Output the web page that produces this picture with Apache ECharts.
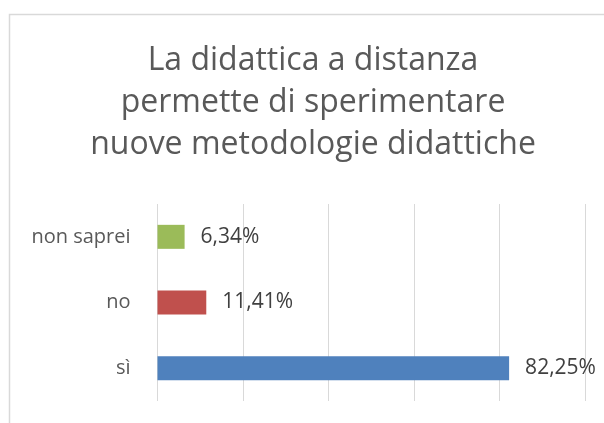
<!DOCTYPE html>
<html>
<head>
<meta charset="utf-8">
<script src="https://cdn.jsdelivr.net/npm/echarts@6/dist/echarts.min.js"></script>
<style>
  html, body { margin: 0; padding: 0; background: #fff; }
  #chart { width: 604px; height: 423px; }
</style>
</head>
<body>
<div id="chart"></div>
<script>
// dati
const categories = ['sì', 'no', 'non saprei']
const values = [82.25, 11.41, 6.34]
const barColors = ['#4f81bd', '#c0504d', '#9bbb59']
const titleLines = ['La didattica a distanza', 'permette di sperimentare', 'nuove metodologie didattiche']

const myChart = echarts.init(document.getElementById('chart'))

const option = {
  animation: false,
  title: {
    text: titleLines.join('\n'),
    left: 308,
    textAlign: 'center',
    top: 35,
    textStyle: {
      fontFamily: 'Open Sans',
      fontSize: 32,
      fontWeight: 'normal',
      color: '#595959',
      lineHeight: 42,
    },
  },
  graphic: [
    {
      type: 'rect',
      shape: { x: 9.5, y: 14.5, width: 700, height: 500 },
      style: { fill: 'none', stroke: '#d9d9d9', lineWidth: 1.5 },
      silent: true,
    },
  ],
  grid: {
    left: 157.5,
    right: 19,
    top: 204,
    bottom: 22,
  },
  xAxis: {
    type: 'value',
    min: 0,
    max: 100,
    interval: 20,
    axisLine: { show: false },
    axisTick: { show: false },
    axisLabel: { show: false },
    splitLine: { lineStyle: { color: '#d9d9d9', width: 1 } },
  },
  yAxis: {
    type: 'category',
    data: categories,
    axisLine: { show: false },
    axisTick: { show: false },
    axisLabel: {
      margin: 27,
      fontFamily: 'Open Sans',
      fontSize: 20,
      color: '#595959',
    },
  },
  series: [
    {
      type: 'bar',
      barWidth: 24,
      data: values.map((v, i) => ({ value: v, itemStyle: { color: barColors[i] } })),
      label: {
        show: true,
        position: 'right',
        distance: 16,
        fontFamily: 'Open Sans',
        fontSize: 21,
        color: '#404040',
        formatter: p => p.value.toFixed(2).replace('.', ',') + '%',
      },
    },
  ],
}

myChart.setOption(option)
</script>
</body>
</html>
